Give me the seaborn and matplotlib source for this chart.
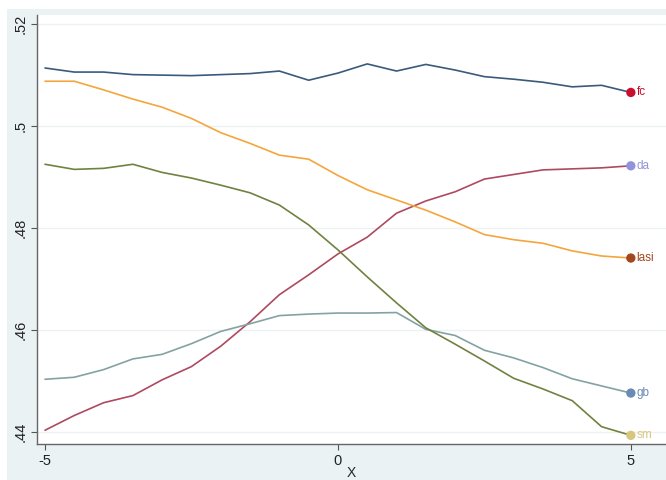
import numpy as np
import pandas as pd
import matplotlib
matplotlib.use("Agg")
import matplotlib.pyplot as plt
import seaborn as sns

x_vals = [-5, -4.5, -4, -3.5, -3, -2.5, -2, -1.5, -1, -0.5, 0,
          0.5, 1, 1.5, 2, 2.5, 3, 3.5, 4, 4.5, 5]

fc = [0.5114, 0.5106, 0.5106, 0.5101, 0.5100, 0.5099, 0.5101, 0.5103, 0.5108, 0.5090, 0.5104,
      0.5122, 0.5108, 0.5121, 0.5110, 0.5097, 0.5092, 0.5086, 0.5077, 0.5080, 0.5066]
da = [0.4403, 0.4432, 0.4457, 0.4471, 0.4502, 0.4528, 0.4568, 0.4616, 0.4669, 0.4708, 0.4749,
      0.4782, 0.4829, 0.4853, 0.4871, 0.4896, 0.4905, 0.4914, 0.4916, 0.4918, 0.4922]
lasi = [0.5088, 0.5088, 0.5071, 0.5053, 0.5037, 0.5015, 0.4987, 0.4966, 0.4943, 0.4935, 0.4903,
        0.4875, 0.4855, 0.4835, 0.4812, 0.4787, 0.4777, 0.4770, 0.4755, 0.4745, 0.4741]
gb = [0.4503, 0.4507, 0.4522, 0.4543, 0.4552, 0.4573, 0.4597, 0.4612, 0.4628, 0.4631, 0.4633,
      0.4633, 0.4634, 0.4601, 0.4589, 0.4560, 0.4545, 0.4526, 0.4504, 0.4490, 0.4476]
sm = [0.4925, 0.4915, 0.4917, 0.4925, 0.4909, 0.4898, 0.4884, 0.4869, 0.4845, 0.4806, 0.4757,
      0.4704, 0.4653, 0.4604, 0.4572, 0.4539, 0.4505, 0.4484, 0.4461, 0.4410, 0.4393]

series_names = ["fc", "da", "lasi", "gb", "sm"]
series_values = [fc, da, lasi, gb, sm]
line_colors = ["#3a5a7c", "#ad4a60", "#f4a63c", "#85a2a2", "#708240"]
end_colors = ["#c8102e", "#9393dd", "#a3471f", "#6a8bb5", "#d6c77c"]

y_ticks = [0.44, 0.46, 0.48, 0.50, 0.52]
y_ticklabels = [".44", ".46", ".48", ".5", ".52"]
x_ticks = [-5, 0, 5]
x_ticklabels = ["-5", "0", "5"]

df = pd.DataFrame({"X": x_vals * len(series_names),
                   "value": sum(series_values, []),
                   "series": np.repeat(series_names, len(x_vals))})

sns.set_style("white")
plt.rcParams["font.family"] = ["Liberation Sans", "DejaVu Sans"]

fig = plt.figure(figsize=(6.66, 4.8), dpi=100, facecolor="white")
bg = plt.Rectangle((7 / 666, 0), 1 - 7 / 666, 1 - 9 / 480, transform=fig.transFigure,
                   facecolor="#eaf2f3", edgecolor="none", zorder=-5)
fig.patches.append(bg)
ax = fig.add_axes([37 / 666, 36 / 480, 1 - 37 / 666, (444 - 15) / 480])
ax.set_facecolor("white")

sns.lineplot(data=df, x="X", y="value", hue="series", hue_order=series_names,
             palette=dict(zip(series_names, line_colors)), linewidth=1.2,
             legend=False, ax=ax, zorder=3)

last = df[df["X"] == x_vals[-1]]
sns.scatterplot(data=last, x="X", y="value", hue="series", hue_order=series_names,
                palette=dict(zip(series_names, end_colors)), s=45, edgecolor="none",
                legend=False, ax=ax, zorder=4)
for name, vals, col in zip(series_names, series_values, end_colors):
    ax.annotate(name, (x_vals[-1], vals[-1]), xytext=(4, 0), textcoords="offset points",
                va="center", ha="left", fontsize=8.5, color=col)

ax.set_xlim(-5.137, 5.6)
ax.set_ylim(0.4376, 0.5218)
ax.set_yticks(y_ticks)
ax.set_yticklabels(y_ticklabels, rotation=90, va="center", fontsize=10.5)
ax.set_xticks(x_ticks)
ax.set_xticklabels(x_ticklabels, fontsize=10.5)
ax.set_xlabel("X", fontsize=10, labelpad=-1)
ax.set_ylabel("")
ax.grid(axis="y", color="#eef1f1", linewidth=1.0)
ax.grid(axis="x", visible=False)
ax.tick_params(axis="both", direction="out", length=4, width=0.8, color="#555555",
               labelcolor="#222222", left=True, bottom=True, pad=3)
for side in ["top", "right"]:
    ax.spines[side].set_visible(False)
for side in ["left", "bottom"]:
    ax.spines[side].set_color("#666666")
    ax.spines[side].set_linewidth(1.0)

fig.savefig("out.png", dpi=100, facecolor=fig.get_facecolor())
